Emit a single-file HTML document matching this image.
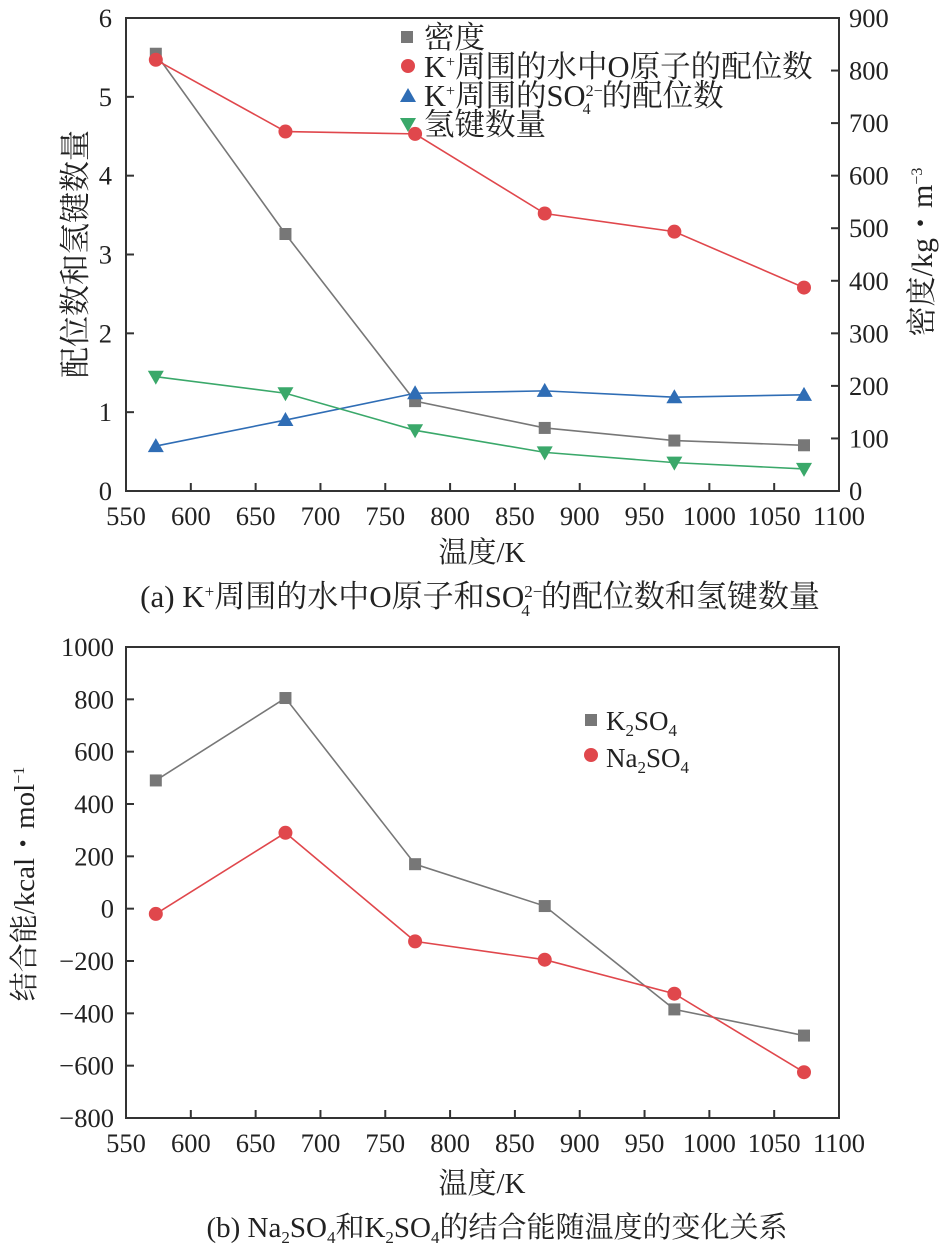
<!DOCTYPE html>
<html><head><meta charset="utf-8">
<style>
body{margin:0;background:#fff;}
svg text{font-family:"Liberation Serif","Noto Serif CJK SC",serif;fill:#222;}
</style></head>
<body>
<svg id="c" width="952" height="1252" xmlns="http://www.w3.org/2000/svg"></svg>
<script>
const temps=[573,673,773,873,973,1073];
const xTicks=[550,600,650,700,750,800,850,900,950,1000,1050,1100];
const density=[832,489,171,120,96,87];
const kWaterO=[5.47,4.56,4.53,3.52,3.29,2.58];
const kSO4=[0.57,0.90,1.24,1.27,1.19,1.22];
const hBonds=[1.45,1.24,0.77,0.49,0.36,0.28];
const leftTicks=[0,1,2,3,4,5,6];
const rightTicks=[0,100,200,300,400,500,600,700,800,900];
const k2so4=[490,805,170,10,-385,-485];
const na2so4=[-20,290,-125,-195,-325,-625];
const bTicks=[-800,-600,-400,-200,0,200,400,600,800,1000];

const NS="http://www.w3.org/2000/svg";
const svg=document.getElementById('c');
function mk(t,a,p){const e=document.createElementNS(NS,t);for(const k in a)e.setAttribute(k,a[k]);(p||svg).appendChild(e);return e;}
const X0=126,X1=839;
const x=v=>X0+(v-550)/550*(X1-X0);
const T0=18,T1=491;
const yL=v=>T1-v/6*(T1-T0);
const yR=v=>T1-v/900*(T1-T0);
const B0=647,B1=1118;
const yB=v=>B1-(v+800)/1800*(B1-B0);
const FS=26.5;

function frame(top,bot,name){
  const r=mk('rect',{x:X0,y:top,width:X1-X0,height:bot-top,fill:'none',stroke:'#333','stroke-width':2});
  
  
  xTicks.forEach(t=>{
    mk('line',{x1:x(t),x2:x(t),y1:bot,y2:bot-8,stroke:'#333','stroke-width':2});
    const tx=mk('text',{x:x(t),y:bot+34,'font-size':FS,'text-anchor':'middle'});tx.textContent=t;
    
    
  });
}
function marker(type,cx,cy,color){
  let e;
  if(type==='sq')e=mk('rect',{x:cx-6,y:cy-6,width:12,height:12,fill:color});
  else if(type==='ci')e=mk('circle',{cx:cx,cy:cy,r:7,fill:color});
  else if(type==='up')e=mk('polygon',{points:`${cx},${cy-8} ${cx-8},${cy+6} ${cx+8},${cy+6}`,fill:color});
  else e=mk('polygon',{points:`${cx},${cy+8} ${cx-8},${cy-6} ${cx+8},${cy-6}`,fill:color});
  
  
}
function series(vals,yf,color,type,name){
  const p=mk('polyline',{points:vals.map((v,i)=>x(temps[i])+','+yf(v)).join(' '),fill:'none',stroke:color,'stroke-width':1.6});
  
  
  vals.forEach((v,i)=>marker(type,x(temps[i]),yf(v),color));
}
frame(T0,T1,'top-plot-area');
leftTicks.forEach(t=>{
  if(t>0&&t<6)mk('line',{x1:X0,x2:X0+8,y1:yL(t),y2:yL(t),stroke:'#333','stroke-width':2});
  const tx=mk('text',{x:X0-14,y:yL(t)+9,'font-size':FS,'text-anchor':'end'});tx.textContent=t;
  
  
});
rightTicks.forEach(t=>{
  if(t>0&&t<900)mk('line',{x1:X1,x2:X1-8,y1:yR(t),y2:yR(t),stroke:'#333','stroke-width':2});
  const tx=mk('text',{x:X1+10,y:yR(t)+9,'font-size':FS,'text-anchor':'start'});tx.textContent=t;
  
  
});
series(density,yR,'#777','sq','density-line');
series(kWaterO,yL,'#e0474c','ci','k-water-o-line');
series(kSO4,yL,'#2f6db5','up','k-so4-line');
series(hBonds,yL,'#3aa86a','dn','hbond-line');

frame(B0,B1,'bottom-plot-area');
bTicks.forEach(t=>{
  if(t>-800&&t<1000)mk('line',{x1:X0,x2:X0+8,y1:yB(t),y2:yB(t),stroke:'#333','stroke-width':2});
  const tx=mk('text',{x:X0-12,y:yB(t)+9,'font-size':FS,'text-anchor':'end'});tx.textContent=t<0?'−'+(-t):t;
  
  
});
series(k2so4,yB,'#777','sq','k2so4-line');
series(na2so4,yB,'#e0474c','ci','na2so4-line');
</script>
<svg width="952" height="1252" style="position:absolute;left:0;top:0" xmlns="http://www.w3.org/2000/svg">
<g font-size="30.5">
<rect x="401" y="31" width="12" height="12" fill="#777"/>
<text x="424" y="48">密度</text>
<circle cx="408" cy="66" r="7" fill="#e0474c"/>
<text x="424" y="77">K<tspan dy="-10" font-size="16">+</tspan><tspan dy="10">周围的水中O原子的配位数</tspan></text>
<polygon points="408,88 400,102 416,102" fill="#2f6db5"/>
<text x="424" y="106">K<tspan dy="-10" font-size="16">+</tspan><tspan dy="10">周围的SO</tspan><tspan dy="-10" font-size="16">2−</tspan><tspan dx="-20" dy="18" font-size="16">4</tspan><tspan dx="11" dy="-8">的配位数</tspan></text>
<polygon points="408,132 400,118 416,118" fill="#3aa86a"/>
<text x="424" y="135">氢键数量</text>
</g>
<text transform="translate(86,254) rotate(-90)" font-size="31" text-anchor="middle">配位数和氢键数量</text>
<text transform="translate(932,252) rotate(-90)" font-size="30" text-anchor="middle">密度/kg・m<tspan dy="-10" font-size="16">−3</tspan></text>
<text x="482" y="562" font-size="29" text-anchor="middle">温度/K</text>
<text x="480" y="607" font-size="31" text-anchor="middle">(a) K<tspan dy="-10" font-size="17">+</tspan><tspan dy="10">周围的水中O原子和SO</tspan><tspan dy="-10" font-size="17">2−</tspan><tspan dx="-21" dy="19" font-size="17">4</tspan><tspan dx="11" dy="-9">的配位数和氢键数量</tspan></text>
<g font-size="27">
<rect x="585" y="714" width="12" height="12" fill="#777"/>
<text x="606" y="730">K<tspan dy="6" font-size="17">2</tspan><tspan dy="-6">SO</tspan><tspan dy="6" font-size="17">4</tspan></text>
<circle cx="591" cy="755" r="7" fill="#e0474c"/>
<text x="606" y="767">Na<tspan dy="6" font-size="17">2</tspan><tspan dy="-6">SO</tspan><tspan dy="6" font-size="17">4</tspan></text>
</g>
<text transform="translate(34,884) rotate(-90)" font-size="29" text-anchor="middle">结合能/kcal・mol<tspan dy="-10" font-size="16">−1</tspan></text>
<text x="482" y="1193" font-size="29" text-anchor="middle">温度/K</text>
<text x="497" y="1237" font-size="29" text-anchor="middle">(b) Na<tspan dy="6" font-size="17">2</tspan><tspan dy="-6">SO</tspan><tspan dy="6" font-size="17">4</tspan><tspan dy="-6">和K</tspan><tspan dy="6" font-size="17">2</tspan><tspan dy="-6">SO</tspan><tspan dy="6" font-size="17">4</tspan><tspan dy="-6">的结合能随温度的变化关系</tspan></text>
</svg>
</body></html>
